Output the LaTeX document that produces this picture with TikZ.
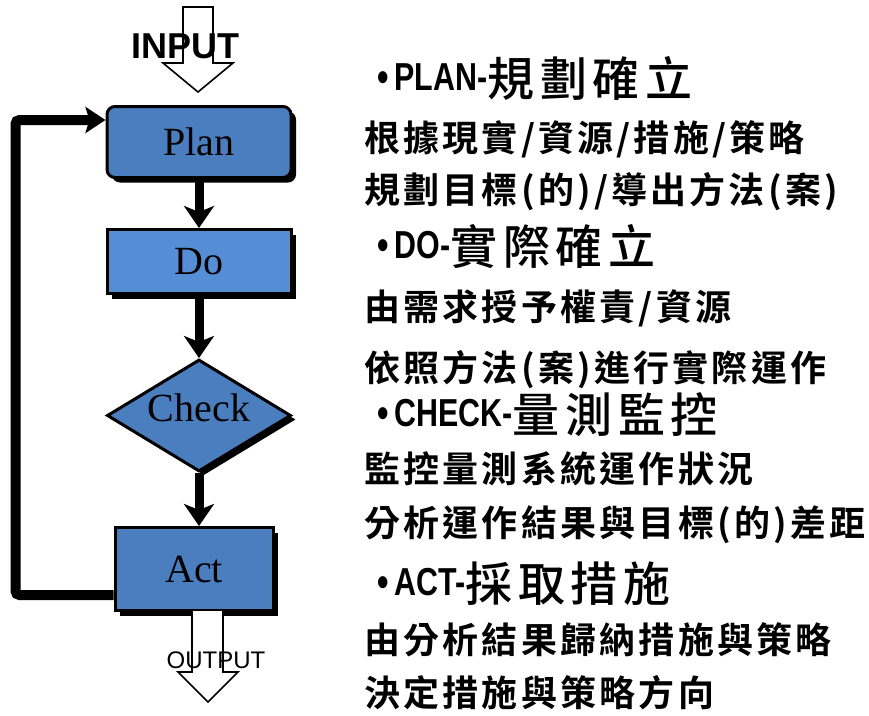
\documentclass[tikz,border=0pt]{standalone}
\usepackage{fontspec}
\setmainfont{Liberation Serif}
\newfontfamily\headlat[FakeStretch=0.78]{Liberation Sans}
\newfontfamily\arrowfont{Liberation Sans}
\newfontfamily\cjkhead[LetterSpace=12]{Noto Sans CJK TC Medium}
\newfontfamily\cjkbody[LetterSpace=9]{Noto Sans CJK TC Bold}
\usetikzlibrary{positioning,shapes.geometric,shadows,arrows.meta}
\definecolor{pdcablue}{RGB}{74,126,190}
\definecolor{dolight}{RGB}{85,142,213}
\newcommand\stagehead[2]{\raisebox{6pt}{\headlat\bfseries\fontsize{39}{39}\selectfont
  \raisebox{-1pt}{\fontsize{42}{42}\selectfont\textbullet}\hspace{6pt}#1}%
  {\cjkhead\fontsize{47}{47}\selectfont #2}}
\tikzset{stage/.style={rectangle,draw,line width=3pt,fill=pdcablue,
	   minimum width=184pt,minimum height=71pt,font=\fontsize{40}{40}\selectfont,
	   drop shadow={shadow xshift=5pt,shadow yshift=-5pt,fill=black,opacity=1}},
	 test/.style={diamond,draw,line width=3pt,fill=pdcablue,inner sep=0pt,aspect=1.6,
	   minimum width=184pt,minimum height=112pt,text depth=16pt,
	   font=\fontsize{40}{40}\selectfont,
	   drop shadow={shadow xshift=5pt,shadow yshift=-4pt,fill=black,opacity=1}},
	 flow/.style={line width=9pt,-{Stealth[length=22pt,width=30pt,inset=6pt]}},
	 back/.style={line width=10pt,rounded corners=4pt,-{Stealth[length=20pt,width=26pt,inset=4pt]}},
	 hollow/.style={draw,line width=1.6pt,fill=white,line join=miter},
	 head/.style={anchor=west,inner sep=0pt},
	 body/.style={anchor=west,inner sep=0pt,font=\cjkbody\fontsize{36}{36}\selectfont}
	 }
\begin{document}
\begin{tikzpicture}[x=1pt,y=-1pt]
	\useasboundingbox (0,0) rectangle (869,715);
	% PDCA loop
	\node[stage,rounded corners=8pt] (plan) at (199,142) {Plan};
	\node[stage,fill=dolight,minimum height=64pt] (do) [below=49pt of plan] {Do};
	\node[test] (check) [below=63pt of do] {Check};
	\node[stage,minimum width=158pt,minimum height=83pt] (act) [below=53pt of check,xshift=-5pt] {Act};
	\draw[flow] (plan) -- (do);
	\draw[flow] (do) -- (check);
	\draw[flow] (check.south) -- (check.south |- act.north);
	\draw[back] ([yshift=-26pt]act.west) -- ++(-98,0) |- ([yshift=22pt]plan.west);
	% input / output
	\draw[hollow] (183,7) -- (213,7) -- (213,63) -- (233,63) -- (198,92) -- (163,63) -- (183,63) -- cycle;
	\node[font=\arrowfont\bfseries\fontsize{36}{36}\selectfont] (input) at (185,46) {INPUT};
	\draw[hollow] (192,610) -- (223,610) -- (223,672) -- (238,672) -- (208,702) -- (178,672) -- (192,672) -- cycle;
	\node[font=\arrowfont\fontsize{24}{24}\selectfont] (output) at (216,660) {OUTPUT};
	% notes
	\node[head] (planhead) at (377,78) {\stagehead{PLAN-}{規劃確立}};
	\node[body] (plan1) at (364,139) {根據現實/資源/措施/策略};
	\node[body] (plan2) at (364,192) {規劃目標(的)/導出方法(案)};
	\node[head] (dohead) at (377,247) {\stagehead{DO-}{實際確立}};
	\node[body] (do1) at (364,308) {由需求授予權責/資源};
	\node[body] (do2) at (364,370) {依照方法(案)進行實際運作};
	\node[head] (checkhead) at (377,415) {\stagehead{CHECK-}{量測監控}};
	\node[body] (check1) at (364,469) {監控量測系統運作狀況};
	\node[body] (check2) at (364,525) {分析運作結果與目標(的)差距};
	\node[head] (acthead) at (377,584) {\stagehead{ACT-}{採取措施}};
	\node[body] (act1) at (364,640) {由分析結果歸納措施與策略};
	\node[body] (act2) at (364,693) {決定措施與策略方向};
\end{tikzpicture}
\end{document}
